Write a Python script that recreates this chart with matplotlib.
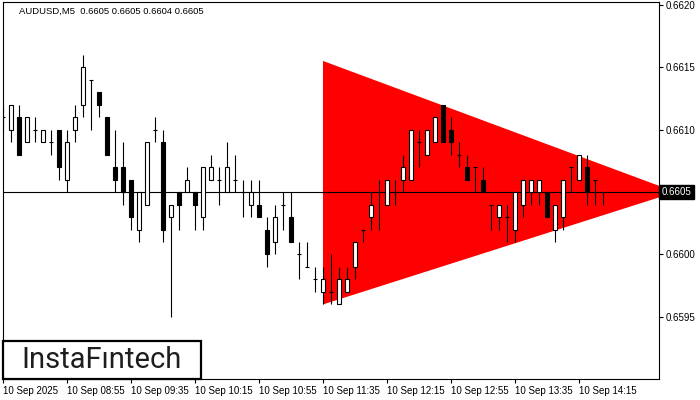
import matplotlib
matplotlib.use("Agg")
import matplotlib.pyplot as plt
from matplotlib.patches import Polygon, Rectangle
import matplotlib.transforms as mtransforms

# AUDUSD M5, 10 Sep 2025, bars from 08:15 to 14:30
opens = [0.6611, 0.6610, 0.6611, 0.6609, 0.6610, 0.6609, 0.6609, 0.6610, 0.6606, 0.6610,
         0.6612, 0.6614, 0.6613, 0.6611, 0.6607, 0.6607, 0.6606, 0.6602, 0.6604, 0.6610,
         0.6609, 0.6603, 0.6605, 0.6605, 0.6605, 0.6603, 0.6606, 0.6606, 0.6605, 0.6606,
         0.6605, 0.6604, 0.6604, 0.6602, 0.6601, 0.6604, 0.6603, 0.6600, 0.6599, 0.6598,
         0.6597, 0.6597, 0.6596, 0.6597, 0.6599, 0.6602, 0.6603, 0.6605, 0.6604, 0.6605,
         0.6606, 0.6606, 0.6609, 0.6608, 0.6609, 0.6612, 0.6610, 0.6608, 0.6607, 0.6607,
         0.6606, 0.6604, 0.6603, 0.6603, 0.6602, 0.6604, 0.6605, 0.6605, 0.6605, 0.6602,
         0.6603, 0.6607, 0.6606, 0.6607, 0.6606, 0.6605]
highs = [0.6612, 0.6612, 0.6612, 0.6611, 0.6611, 0.6610, 0.6610, 0.6610, 0.6610, 0.6612,
         0.6616, 0.6614, 0.6613, 0.6611, 0.6610, 0.6609, 0.6606, 0.6605, 0.6609, 0.6611,
         0.6610, 0.6604, 0.6605, 0.6607, 0.6605, 0.6607, 0.6608, 0.6607, 0.6609, 0.6608,
         0.6606, 0.6606, 0.6606, 0.6603, 0.6604, 0.6605, 0.6605, 0.6601, 0.6601, 0.6599,
         0.6599, 0.6600, 0.6599, 0.6599, 0.6601, 0.6602, 0.6605, 0.6606, 0.6606, 0.6606,
         0.6608, 0.6610, 0.6610, 0.6610, 0.6611, 0.6612, 0.6611, 0.6609, 0.6608, 0.6607,
         0.6607, 0.6604, 0.6604, 0.6604, 0.6605, 0.6606, 0.6606, 0.6606, 0.6605, 0.6604,
         0.6606, 0.6607, 0.6608, 0.6608, 0.6606, 0.6605]
lows = [0.6610, 0.6609, 0.6608, 0.6609, 0.6609, 0.6609, 0.6608, 0.6606, 0.6605, 0.6609,
        0.6611, 0.6610, 0.6611, 0.6608, 0.6605, 0.6604, 0.6602, 0.6601, 0.6604, 0.6609,
        0.6601, 0.6595, 0.6602, 0.6605, 0.6602, 0.6602, 0.6606, 0.6604, 0.6605, 0.6605,
        0.6603, 0.6603, 0.6603, 0.6599, 0.6600, 0.6602, 0.6601, 0.6598, 0.6599, 0.6597,
        0.6596, 0.6596, 0.6596, 0.6597, 0.6598, 0.6601, 0.6602, 0.6602, 0.6604, 0.6604,
        0.6605, 0.6606, 0.6607, 0.6608, 0.6609, 0.6609, 0.6608, 0.6607, 0.6606, 0.6605,
        0.6605, 0.6602, 0.6602, 0.6601, 0.6601, 0.6603, 0.6604, 0.6604, 0.6603, 0.6601,
        0.6602, 0.6605, 0.6606, 0.6604, 0.6604, 0.6604]
closes = [0.6611, 0.6612, 0.6608, 0.6611, 0.6610, 0.6610, 0.6609, 0.6607, 0.6609, 0.6611,
          0.6615, 0.6614, 0.6612, 0.6608, 0.6606, 0.6605, 0.6603, 0.6605, 0.6609, 0.6610,
          0.6602, 0.6604, 0.6604, 0.6606, 0.6604, 0.6607, 0.6607, 0.6606, 0.6607, 0.6606,
          0.6605, 0.6605, 0.6603, 0.6600, 0.6603, 0.6604, 0.6601, 0.6600, 0.6599, 0.6598,
          0.6598, 0.6597, 0.6598, 0.6598, 0.6601, 0.6602, 0.6604, 0.6605, 0.6606, 0.6605,
          0.6607, 0.6610, 0.6609, 0.6610, 0.6611, 0.6609, 0.6609, 0.6608, 0.6606, 0.6607,
          0.6605, 0.6604, 0.6604, 0.6603, 0.6605, 0.6606, 0.6606, 0.6606, 0.6603, 0.6604,
          0.6606, 0.6607, 0.6608, 0.6605, 0.6606, 0.6605]

x_ticks = [0, 8, 16, 24, 32, 40, 48, 56, 64, 72]
x_labels = ["10 Sep 2025", "10 Sep 08:55", "10 Sep 09:35", "10 Sep 10:15", "10 Sep 10:55",
            "10 Sep 11:35", "10 Sep 12:15", "10 Sep 12:55", "10 Sep 13:35", "10 Sep 14:15"]
y_ticks = [0.6595, 0.6600, 0.6605, 0.6610, 0.6615, 0.6620]

# bearish triangle pattern (bar index, price)
tri_x = [40, 84.1, 40]
tri_y = [0.66155, 0.6605, 0.6596]

bid = 0.6605
title = "AUDUSD,M5  0.6605 0.6605 0.6604 0.6605"

W, H = 700, 400
fig = plt.figure(figsize=(7, 4), dpi=100)
ax = fig.add_axes([2.5 / W, 21 / H, (659 - 2.5) / W, 377 / H])
ax.set_xlim(-0.06, 82.0)
ax.set_ylim(0.659003, 0.662022)

ax.add_patch(Polygon(list(zip(tri_x, tri_y)), closed=True, fc="#ff0000", ec="none", zorder=1))
ax.axhline(bid, color="black", lw=0.8, zorder=2)

bw = 0.6
for i, (o, h, l, c) in enumerate(zip(opens, highs, lows, closes)):
    ax.vlines(i, l, h, color="black", lw=0.8, zorder=3)
    if abs(c - o) < 1e-7:
        ax.hlines(o, i - bw / 2, i + bw / 2, color="black", lw=0.8, zorder=4)
    else:
        fc = "white" if c > o else "black"
        ax.add_patch(Rectangle((i - bw / 2, min(o, c)), bw, abs(c - o),
                               fc=fc, ec="black", lw=0.8, zorder=4))

for s in ax.spines.values():
    s.set_linewidth(0.8)

ax.yaxis.tick_right()
ax.set_yticks(y_ticks)
# the bid box below carries the 0.6605 label
ax.set_yticklabels(["" if abs(v - bid) < 1e-7 else f"{v:.4f}" for v in y_ticks])
ax.set_xticks(x_ticks)
ax.set_xticklabels(x_labels, ha="left")
ax.tick_params(axis="both", direction="out", length=3, width=0.8,
               labelsize=7, colors="black", pad=2)
for lab in ax.get_xticklabels() + ax.get_yticklabels():
    lab.set_family("Liberation Sans")

# current price marker
trans = mtransforms.blended_transform_factory(ax.transAxes, ax.transData)
ax.text(1.004, bid, f"{bid:.4f}", transform=trans, ha="left", va="center",
        color="white", fontsize=7, family="Liberation Sans", zorder=10,
        bbox=dict(boxstyle="square,pad=0.25", fc="black", ec="black"))

fig.text(19 / W, 1 - 11 / H, title, ha="left", va="center", fontsize=6.8,
         family="Liberation Sans", color="black")

# logo box
fig.patches.append(Rectangle((3 / W, 21 / H), 198 / W, 38 / H, transform=fig.transFigure,
                             fc="white", ec="black", lw=1.6, zorder=20))
fig.text(102 / W, 1 - 360 / H, "InstaF\u0131ntech", ha="center", va="center",
         fontsize=21, family="Roboto", color="#1e1e1e", zorder=21)

fig.savefig("out.png", dpi=100)
